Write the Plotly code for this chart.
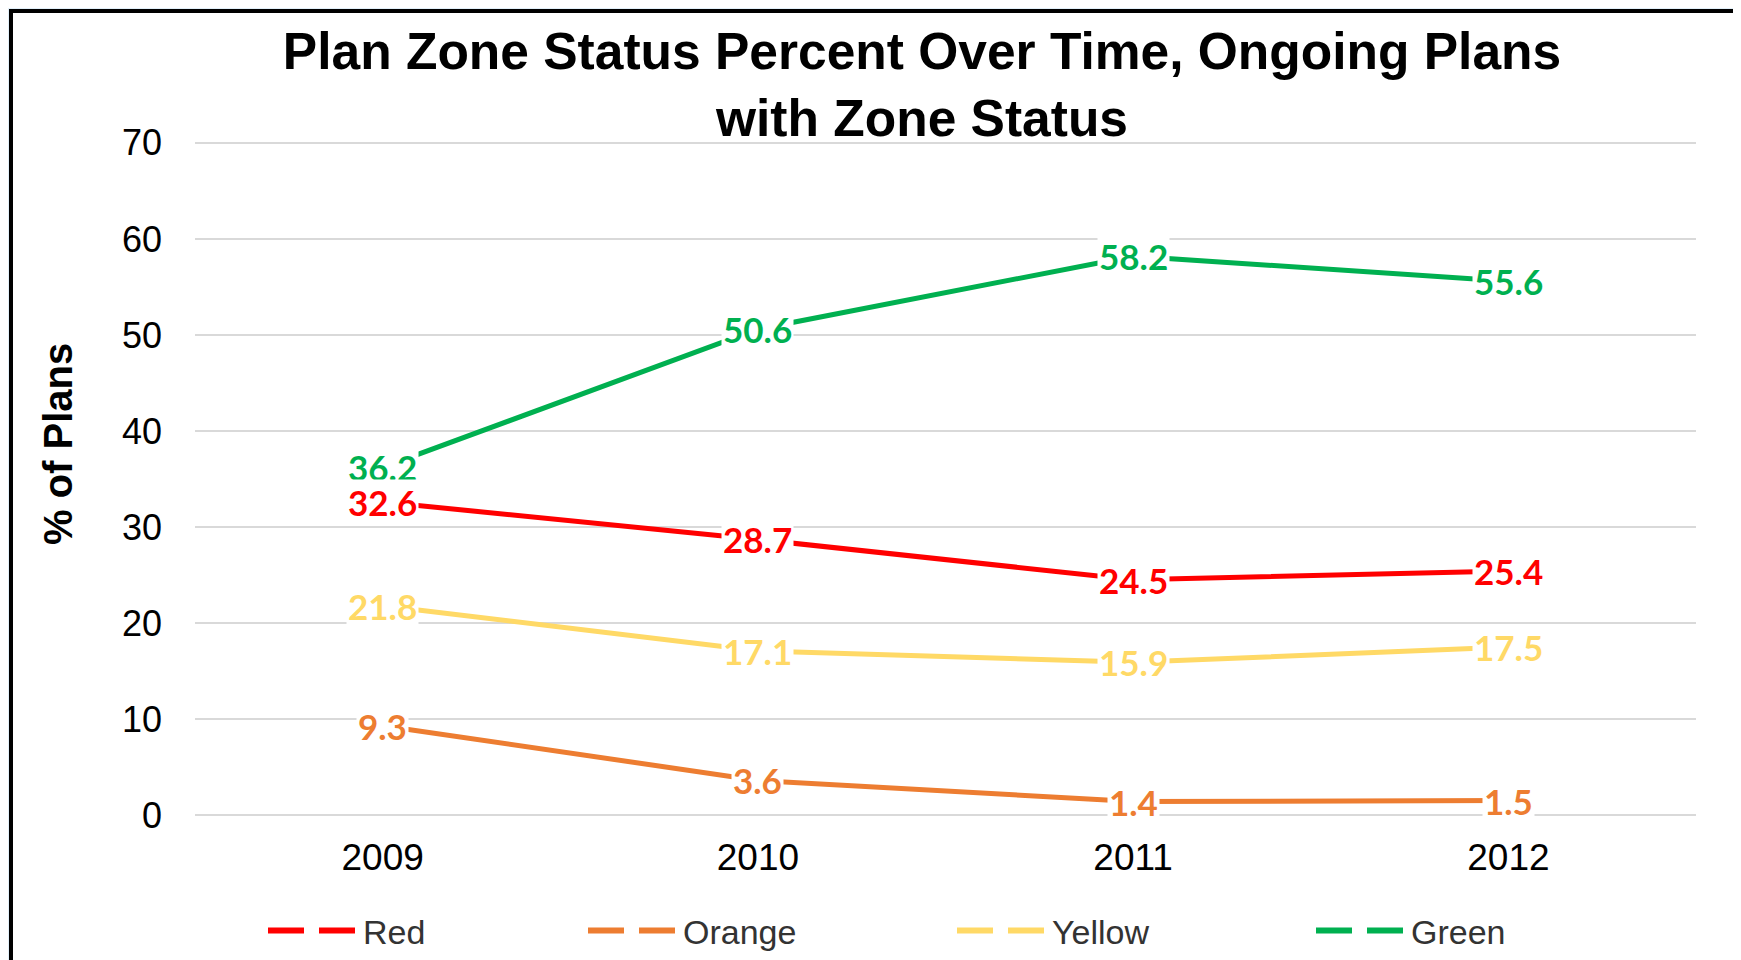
import plotly.graph_objects as go

years = ["2009", "2010", "2011", "2012"]
series_names = ["Red", "Orange", "Yellow", "Green"]
red_vals = [32.6, 28.7, 24.5, 25.4]
orange_vals = [9.3, 3.6, 1.4, 1.5]
yellow_vals = [21.8, 17.1, 15.9, 17.5]
green_vals = [36.2, 50.6, 58.2, 55.6]
y_ticks = [0, 10, 20, 30, 40, 50, 60, 70]

colors = {"Red": "#FF0000", "Orange": "#ED7D31", "Yellow": "#FFD966", "Green": "#00B050"}
values = {"Red": red_vals, "Orange": orange_vals, "Yellow": yellow_vals, "Green": green_vals}

# page is rendered with an 8px body margin; work in page pixels and convert
OFF = 8
W, H = 1741, 960
Y_TOP = 70.3
PW = 1501
PH = 675
L = 195 - OFF
T = 815 - OFF - PH
R = W - L - PW
B = H - T - PH

def px(x):
    return (x - OFF - L) / PW

def py(y):
    return (H - B - (y - OFF)) / PH

fig = go.Figure()

# data lines
for name in series_names:
    fig.add_trace(go.Scatter(
        x=years, y=values[name], mode="lines", name=name,
        line=dict(color=colors[name], width=5),
        showlegend=False, hoverinfo="x+y+name",
    ))

# legend entries (dashed symbols as in the reference), one legend box per entry
legend_ids = ["legend", "legend2", "legend3", "legend4"]
legend_starts = [268, 588, 957, 1316]
for name, lid in zip(series_names, legend_ids):
    fig.add_trace(go.Scatter(
        x=[None], y=[None], mode="lines", name=name,
        line=dict(color=colors[name], width=6, dash="36px,15px"),
        showlegend=True, legend=lid,
    ))

annotations = []
label_order = ["Green", "Yellow", "Orange", "Red"]
for name in label_order:
    for i, v in enumerate(values[name]):
        annotations.append(dict(
            x=i, y=v, xref="x", yref="y", text=f"{v:.1f}", showarrow=False,
            font=dict(family="Lato", size=35, color=colors[name], weight="bold"),
            bgcolor="white", borderpad=1, xanchor="center", yanchor="middle",
        ))

annotations.append(dict(
    x=px(58), y=py(444), xref="paper", yref="paper", text="% of Plans",
    textangle=-90, showarrow=False, xanchor="center", yanchor="middle",
    font=dict(family="Liberation Sans, Arial", size=40, color="black", weight="bold"),
))

legend_common = dict(
    orientation="h", yanchor="middle",
    font=dict(family="Liberation Sans, Arial", size=34, color="#333333"),
    itemwidth=90, bgcolor="rgba(0,0,0,0)",
)
legend_layout = {}
for lid, start in zip(legend_ids, legend_starts):
    legend_layout[lid] = dict(legend_common, x=px(start - 5), y=py(931), xanchor="left")

fig.update_layout(
    width=W, height=H,
    margin=dict(l=L, r=R, t=T, b=B, pad=0, autoexpand=False),
    paper_bgcolor="#E2F0FA",
    plot_bgcolor="white",
    title=dict(
        text="Plan Zone Status Percent Over Time, Ongoing Plans<br>with Zone Status",
        x=px(922), xref="paper", xanchor="center",
        y=1 - (66 - OFF + 3) / H, yref="container", yanchor="top",
        font=dict(family="Liberation Sans, Arial", size=51.5, color="black", weight="bold"),
    ),
    xaxis=dict(
        type="category", range=[-0.5, 3.5], showgrid=False, showline=False,
        zeroline=False, ticks="", ticklabelstandoff=17,
        tickfont=dict(family="Liberation Sans, Arial", size=37, color="black"),
    ),
    yaxis=dict(
        range=[0, Y_TOP], tickvals=y_ticks, showgrid=True, gridcolor="#D9D9D9",
        gridwidth=2, zeroline=True, zerolinecolor="#D9D9D9", zerolinewidth=2,
        showline=False, ticks="", ticklabelstandoff=32,
        tickfont=dict(family="Liberation Sans, Arial", size=36, color="black"),
    ),
    shapes=[dict(
        type="rect", xref="paper", yref="paper",
        x0=px(11), x1=px(1735), y0=py(1010), y1=py(11),
        line=dict(color="black", width=4), fillcolor="white", layer="below",
    )],
    annotations=annotations,
    **legend_layout,
)

fig.write_html("out.html")
